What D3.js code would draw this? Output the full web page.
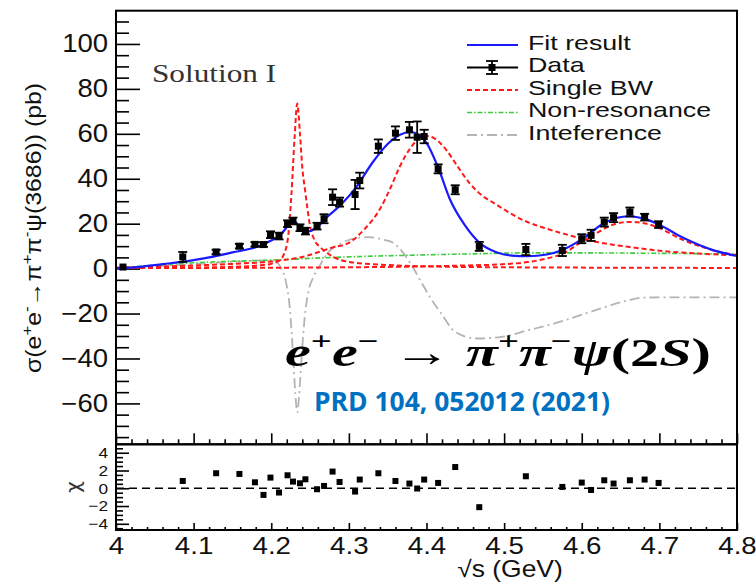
<!DOCTYPE html>
<html><head><meta charset="utf-8">
<script src="https://cdn.jsdelivr.net/npm/d3@7"></script>
<style>body{margin:0;background:#fff}svg{display:block}</style>
</head><body>
<svg id="c" width="756" height="582"></svg>
<script>
// ---- measured data (sqrt(s) in GeV, cross section in pb) ----
const energies = [4.009,4.086,4.129,4.159,4.179,4.190,4.199,4.210,4.221,4.228,4.237,4.244,4.259,4.268,4.279,4.288,4.308,4.314,4.338,4.360,4.378,4.388,4.397,4.415,4.437,4.468,4.528,4.575,4.600,4.612,4.629,4.641,4.662,4.681,4.699];
const xsec     = [0.7,5.2,7.4,10.0,10.8,10.7,15.1,14.5,20.0,21.2,18.2,16.7,18.9,22.2,31.8,29.6,33.0,39.2,54.5,60.3,61.8,58.5,58.8,44.4,35.1,9.9,8.5,8.1,13.3,14.8,20.7,22.7,25.2,22.9,19.6];
const xsecErr  = [0.6,2.2,1.0,1.0,1.0,1.0,1.5,1.5,1.5,1.5,1.5,1.5,1.5,2.0,3.5,2.0,6.5,3.5,3.0,3.0,3.5,7.0,3.0,2.0,2.0,2.0,2.5,2.5,2.0,2.5,2.0,2.0,2.0,1.5,1.5];
// pulls (chi) shown in the lower pad
const pullEnergy = [4.086,4.129,4.159,4.179,4.190,4.199,4.210,4.221,4.228,4.237,4.244,4.259,4.268,4.279,4.288,4.308,4.314,4.338,4.360,4.378,4.388,4.397,4.415,4.437,4.468,4.528,4.575,4.600,4.612,4.629,4.641,4.662,4.681,4.699];
const pullValue  = [0.82,1.69,1.61,0.67,-0.75,1.20,-0.48,1.46,0.75,0.56,1.01,-0.11,0.26,1.88,0.71,-0.37,0.98,1.69,0.82,0.53,-0.03,0.98,0.60,2.39,-2.13,1.35,0.15,0.64,-0.19,0.90,0.53,0.90,0.98,0.60];
// fit components
const fitE = [4.00,4.03,4.06,4.09,4.12,4.15,4.18,4.20,4.21,4.218,4.224,4.228,4.232,4.238,4.245,4.252,4.26,4.27,4.29,4.31,4.33,4.35,4.365,4.38,4.39,4.40,4.415,4.43,4.45,4.47,4.49,4.51,4.53,4.555,4.575,4.60,4.63,4.66,4.685,4.70,4.73,4.77,4.80];
const fitV = [0.0,0.8,2.0,3.2,5.0,7.2,9.5,12.5,14.5,17.5,20.5,21.5,20.5,18.0,16.5,17.0,18.8,22.3,28.5,36.5,47,55.5,59.5,60.8,59.5,56,45,31,19,11,7.3,5.8,5.5,6.3,8.3,13,20.5,23.3,21.7,19.5,13.8,8.1,5.6];
const bwNarrowE = [4.00,4.10,4.15,4.18,4.20,4.21,4.217,4.222,4.226,4.230,4.2335,4.237,4.240,4.2436,4.25,4.256,4.263,4.28,4.30,4.35,4.40,4.50,4.80];
const bwNarrowV = [0.3,0.5,0.8,1.3,2.2,3.5,7,15,33,58,73.5,60,45,34.8,19,12.5,9.6,5.2,3.0,1.6,1.0,0.6,0.3];
const bwBroadE = [4.00,4.05,4.10,4.15,4.20,4.24,4.28,4.30,4.32,4.34,4.355,4.365,4.38,4.39,4.40,4.41,4.426,4.44,4.456,4.47,4.49,4.525,4.55,4.576,4.62,4.662,4.705,4.75,4.80];
const bwBroadV = [0.5,0.9,1.4,2.1,3.2,5.2,9.5,11.5,17.5,26.5,37,45,54,57.8,59,58,52.6,45.5,37.8,33,28.5,21.5,18.3,15.6,11.8,9.6,7.8,6.7,5.9];
const bwHighE = [4.00,4.20,4.30,4.40,4.45,4.49,4.53,4.555,4.576,4.598,4.62,4.64,4.66,4.68,4.697,4.727,4.77,4.80];
const bwHighV = [0.2,0.4,0.6,1.0,1.4,1.8,2.9,4.5,6.7,11.5,16,19.5,20.8,20.2,18.5,13.3,8.1,5.9];
const nonResE = [4.00,4.03,4.07,4.12,4.17,4.20,4.28,4.37,4.45,4.53,4.60,4.70,4.80];
const nonResV = [0.0,1.0,2.0,2.9,3.5,3.8,5.0,5.9,6.5,7.0,7.0,6.8,6.5];
const interfE = [4.00,4.05,4.10,4.15,4.19,4.205,4.213,4.219,4.224,4.228,4.2315,4.2335,4.236,4.239,4.243,4.248,4.254,4.262,4.272,4.289,4.305,4.325,4.345,4.357,4.37,4.38,4.392,4.405,4.419,4.437,4.465,4.497,4.53,4.565,4.611,4.657,4.68,4.72,4.80];
const interfV = [0.0,1.0,2.0,3.0,3.6,3.2,0,-6,-18,-38,-58,-64,-56,-40,-22,-10,-4,1,6.7,11.1,13.2,14,12.8,11.5,7,2,-5.2,-13,-20,-28.2,-31.1,-30.4,-27.5,-24.4,-19.3,-14.4,-12.9,-12.8,-12.8];
// axis ticks
const yMajor = [-60,-40,-20,0,20,40,60,80,100];
const pullMajor = [-4,-2,0,2,4];
const xMajor = [4,4.1,4.2,4.3,4.4,4.5,4.6,4.7,4.8];
const xLabels = ["4","4.1","4.2","4.3","4.4","4.5","4.6","4.7","4.8"];
const legendLabels = ["Fit result","Data","Single BW","Non-resonance","Inteference"];

const svg = d3.select("#c");
const X0=116, X1=737, YT=10.7, YM=444.3, YB=530;
const x = d3.scaleLinear().domain([4,4.8]).range([X0,X1]);
const y = d3.scaleLinear().domain([-78.2,114.8]).range([YM,YT]);
const yp = d3.scaleLinear().domain([-4.7,4.95]).range([YB,YM]);
const SANS = "'Liberation Sans', Arial, Helvetica, sans-serif";

function stretch(sel, sx){
  sel.each(function(){
    const t=d3.select(this); const ax=+t.attr("x")||0;
    t.attr("transform",`translate(${ax*(1-sx)},0) scale(${sx},1)`);
  });
}
function styleAxis(g, fs){
  g.select(".domain").remove();
  g.selectAll(".tick line").attr("stroke","#000").attr("stroke-width",1.6);
  g.selectAll(".tick text").attr("fill","#111").style("font-family",SANS).style("font-size",fs+"px");
}

svg.append("defs").append("clipPath").attr("id","clipMain")
  .append("rect").attr("x",X0).attr("y",YT).attr("width",X1-X0).attr("height",YM-YT);

// ---- main y axis ----
const yMinor = d3.range(-75,115,5).filter(v=>v%20!==0);
const gyMin = svg.append("g").attr("transform",`translate(${X0},0)`)
  .call(d3.axisLeft(y).tickValues(yMinor).tickSize(-13).tickFormat(""));
styleAxis(gyMin,10);
const gy = svg.append("g").attr("transform",`translate(${X0},0)`)
  .call(d3.axisLeft(y).tickValues(yMajor).tickSize(-24).tickPadding(8).tickFormat(d3.format("d")));
styleAxis(gy,25);
stretch(gy.selectAll(".tick text"),1.1);

// ---- main x ticks (no labels) ----
const xMinor = d3.range(1,40).filter(i=>i%5!==0).map(i=>4+i*0.02);
const gxm1 = svg.append("g").attr("transform",`translate(0,${YM})`)
  .call(d3.axisBottom(x).tickValues(xMinor).tickSize(-5).tickFormat(""));
styleAxis(gxm1,10);
const gxm2 = svg.append("g").attr("transform",`translate(0,${YM})`)
  .call(d3.axisBottom(x).tickValues(xMajor).tickSize(-11).tickFormat(""));
styleAxis(gxm2,10);

// ---- pull pad axes ----
const pMinor = d3.range(-9,10).map(i=>i*0.5).filter(v=>Math.abs(v%2)!==0);
const gpm = svg.append("g").attr("transform",`translate(${X0},0)`)
  .call(d3.axisLeft(yp).tickValues(pMinor).tickSize(-7).tickFormat(""));
styleAxis(gpm,10);
const gp = svg.append("g").attr("transform",`translate(${X0},0)`)
  .call(d3.axisLeft(yp).tickValues(pullMajor).tickSize(-13).tickPadding(8).tickFormat(d3.format("d")));
styleAxis(gp,15);
stretch(gp.selectAll(".tick text"),1.15);
const gxp1 = svg.append("g").attr("transform",`translate(0,${YB})`)
  .call(d3.axisBottom(x).tickValues(xMinor).tickSize(-3).tickFormat(""));
styleAxis(gxp1,10);
const gxp2 = svg.append("g").attr("transform",`translate(0,${YB})`)
  .call(d3.axisBottom(x).tickValues(xMajor).tickSize(-7).tickPadding(7).tickFormat((d,i)=>xLabels[i]));
styleAxis(gxp2,23.5);
stretch(gxp2.selectAll(".tick text"),1.18);

// ---- curves ----
const line = d3.line().x(d=>x(d[0])).y(d=>y(d[1])).curve(d3.curveMonotoneX);
const zip=(a,b)=>a.map((v,i)=>[v,b[i]]);
const curves = svg.append("g").attr("clip-path","url(#clipMain)");
curves.append("path").attr("d",line(zip(interfE,interfV))).attr("fill","none")
  .attr("stroke","#b4b4b4").attr("stroke-width",1.8).attr("stroke-dasharray","10,4,2,4");
curves.append("path").attr("d",line(zip(nonResE,nonResV))).attr("fill","none")
  .attr("stroke","#3ccc3c").attr("stroke-width",1.6).attr("stroke-dasharray","5,2,1.5,2");
[[bwNarrowE,bwNarrowV],[bwBroadE,bwBroadV],[bwHighE,bwHighV]].forEach(([e,v])=>{
  curves.append("path").attr("d",line(zip(e,v))).attr("fill","none")
    .attr("stroke","#ff1a1a").attr("stroke-width",2).attr("stroke-dasharray","5,3");
});
curves.append("path").attr("d",line(zip(fitE,fitV))).attr("fill","none")
  .attr("stroke","#1a1aff").attr("stroke-width",2.2);

// ---- data points ----
const pts = svg.append("g");
energies.forEach((e,i)=>{
  const cx=x(e), v=xsec[i], er=xsecErr[i];
  const y1=y(v+er), y2=y(v-er);
  if (y2-y1>3){
    pts.append("line").attr("x1",cx).attr("x2",cx).attr("y1",y1).attr("y2",y2).attr("stroke","#000").attr("stroke-width",1.8);
    [y1,y2].forEach(yy=>pts.append("line").attr("x1",cx-4.5).attr("x2",cx+4.5).attr("y1",yy).attr("y2",yy).attr("stroke","#000").attr("stroke-width",1.8));
  }
  pts.append("rect").attr("x",cx-3.5).attr("y",y(v)-3.5).attr("width",7).attr("height",7).attr("fill","#000");
});

// ---- pull pad ----
svg.append("line").attr("x1",X0).attr("x2",X1).attr("y1",yp(0)).attr("y2",yp(0))
  .attr("stroke","#000").attr("stroke-width",1.4).attr("stroke-dasharray","8,5");
pullEnergy.forEach((e,i)=>{
  svg.append("rect").attr("x",x(e)-3).attr("y",yp(pullValue[i])-3).attr("width",6).attr("height",6).attr("fill","#000");
});

// ---- frames ----
svg.append("rect").attr("x",X0).attr("y",YT).attr("width",X1-X0).attr("height",YM-YT).attr("fill","none").attr("stroke","#000").attr("stroke-width",2);
svg.append("rect").attr("x",X0).attr("y",YM).attr("width",X1-X0).attr("height",YB-YM).attr("fill","none").attr("stroke","#000").attr("stroke-width",2);

// ---- legend ----
const lg = svg.append("g");
const LX0=467, LX1=518, LT=528;
const baselines=[50,72.5,95,117.5,140];
legendLabels.forEach((lab,i)=>{
  const t=lg.append("text").attr("x",LT).attr("y",baselines[i]).text(lab)
    .style("font-family",SANS).style("font-size","20px").attr("fill","#111");
  stretch(t,1.34);
});
const ly = baselines.map(b=>b-5);
lg.append("line").attr("x1",LX0).attr("x2",LX1).attr("y1",ly[0]).attr("y2",ly[0]).attr("stroke","#1a1aff").attr("stroke-width",2.2);
lg.append("line").attr("x1",LX0).attr("x2",LX1).attr("y1",ly[1]).attr("y2",ly[1]).attr("stroke","#000").attr("stroke-width",1.8);
lg.append("line").attr("x1",492).attr("x2",492).attr("y1",ly[1]-6.5).attr("y2",ly[1]+6.5).attr("stroke","#000").attr("stroke-width",1.8);
[ly[1]-6.5,ly[1]+6.5].forEach(yy=>lg.append("line").attr("x1",486).attr("x2",498).attr("y1",yy).attr("y2",yy).attr("stroke","#000").attr("stroke-width",1.8));
lg.append("rect").attr("x",488.5).attr("y",ly[1]-3.5).attr("width",7).attr("height",7).attr("fill","#000");
lg.append("line").attr("x1",LX0).attr("x2",LX1).attr("y1",ly[2]).attr("y2",ly[2]).attr("stroke","#ff1a1a").attr("stroke-width",2).attr("stroke-dasharray","5,3");
lg.append("line").attr("x1",LX0).attr("x2",LX1).attr("y1",ly[3]).attr("y2",ly[3]).attr("stroke","#3ccc3c").attr("stroke-width",1.6).attr("stroke-dasharray","5,2,1.5,2");
lg.append("line").attr("x1",LX0).attr("x2",LX1).attr("y1",ly[4]).attr("y2",ly[4]).attr("stroke","#b4b4b4").attr("stroke-width",1.8).attr("stroke-dasharray","10,4,2,4");

// ---- texts ----
const sol = svg.append("text").attr("x",152).attr("y",82).text("Solution I")
  .style("font-family","'Liberation Serif','Times New Roman',serif").style("font-size","25px").attr("fill","#333");
stretch(sol,1.25);

// y axis title
const yt = svg.append("text").attr("transform","translate(41,228) rotate(-90)")
  .attr("text-anchor","middle").style("font-family",SANS).style("font-size","22px").attr("fill","#111")
  .attr("textLength",290).attr("lengthAdjust","spacingAndGlyphs");
const ytParts = [["σ(e",0],["+",1],["e",2],["-",1],["→π",2],["+",1],["π",2],["-",1],["ψ(3686)) (pb)",2]];
ytParts.forEach(([s,k])=>{
  const ts = yt.append("tspan").text(s);
  if(k===1) ts.attr("dy",-9).style("font-size","15px");
  if(k===2) ts.attr("dy",9);
});

// chi label
svg.append("text").attr("transform","translate(80,487) rotate(-90)").attr("text-anchor","middle")
  .style("font-family","'DejaVu Sans',sans-serif").style("font-size","20px").attr("fill","#333").text("χ");

// x axis title
const xt = svg.append("text").attr("x",510).attr("y",577).attr("text-anchor","middle")
  .style("font-family",SANS).style("font-size","23px").attr("fill","#111").text("√s (GeV)");
stretch(xt,1.15);

// reaction formula
const fm = svg.append("text").attr("x",285).attr("y",366).attr("textLength",426).attr("lengthAdjust","spacingAndGlyphs")
  .style("font-family","'Liberation Serif','DejaVu Serif',serif").style("font-size","41px").style("font-weight","bold").attr("fill","#000");
const fParts=[["e","i",0],["+","n",1],["e","i",2],["−","n",1],[" → ","n",2],["π","i",0],["+","n",1],["π","i",2],["−","n",1],["ψ","i",2],["(2","n",0],["S","i",0],[")","n",0]];
fParts.forEach(([s,st,k])=>{
  const ts=fm.append("tspan").text(s).style("font-style",st==="i"?"italic":"normal");
  if(k===1) ts.attr("dy",-16).style("font-size","26px");
  if(k===2) ts.attr("dy",16);
});

svg.append("text").attr("x",314).attr("y",411).attr("textLength",296).attr("lengthAdjust","spacingAndGlyphs")
  .style("font-family","'Open Sans','Liberation Sans',sans-serif").style("font-weight","bold").style("font-size","26px")
  .attr("fill","#0070c0").text("PRD 104, 052012 (2021)");
</script>
</body></html>
